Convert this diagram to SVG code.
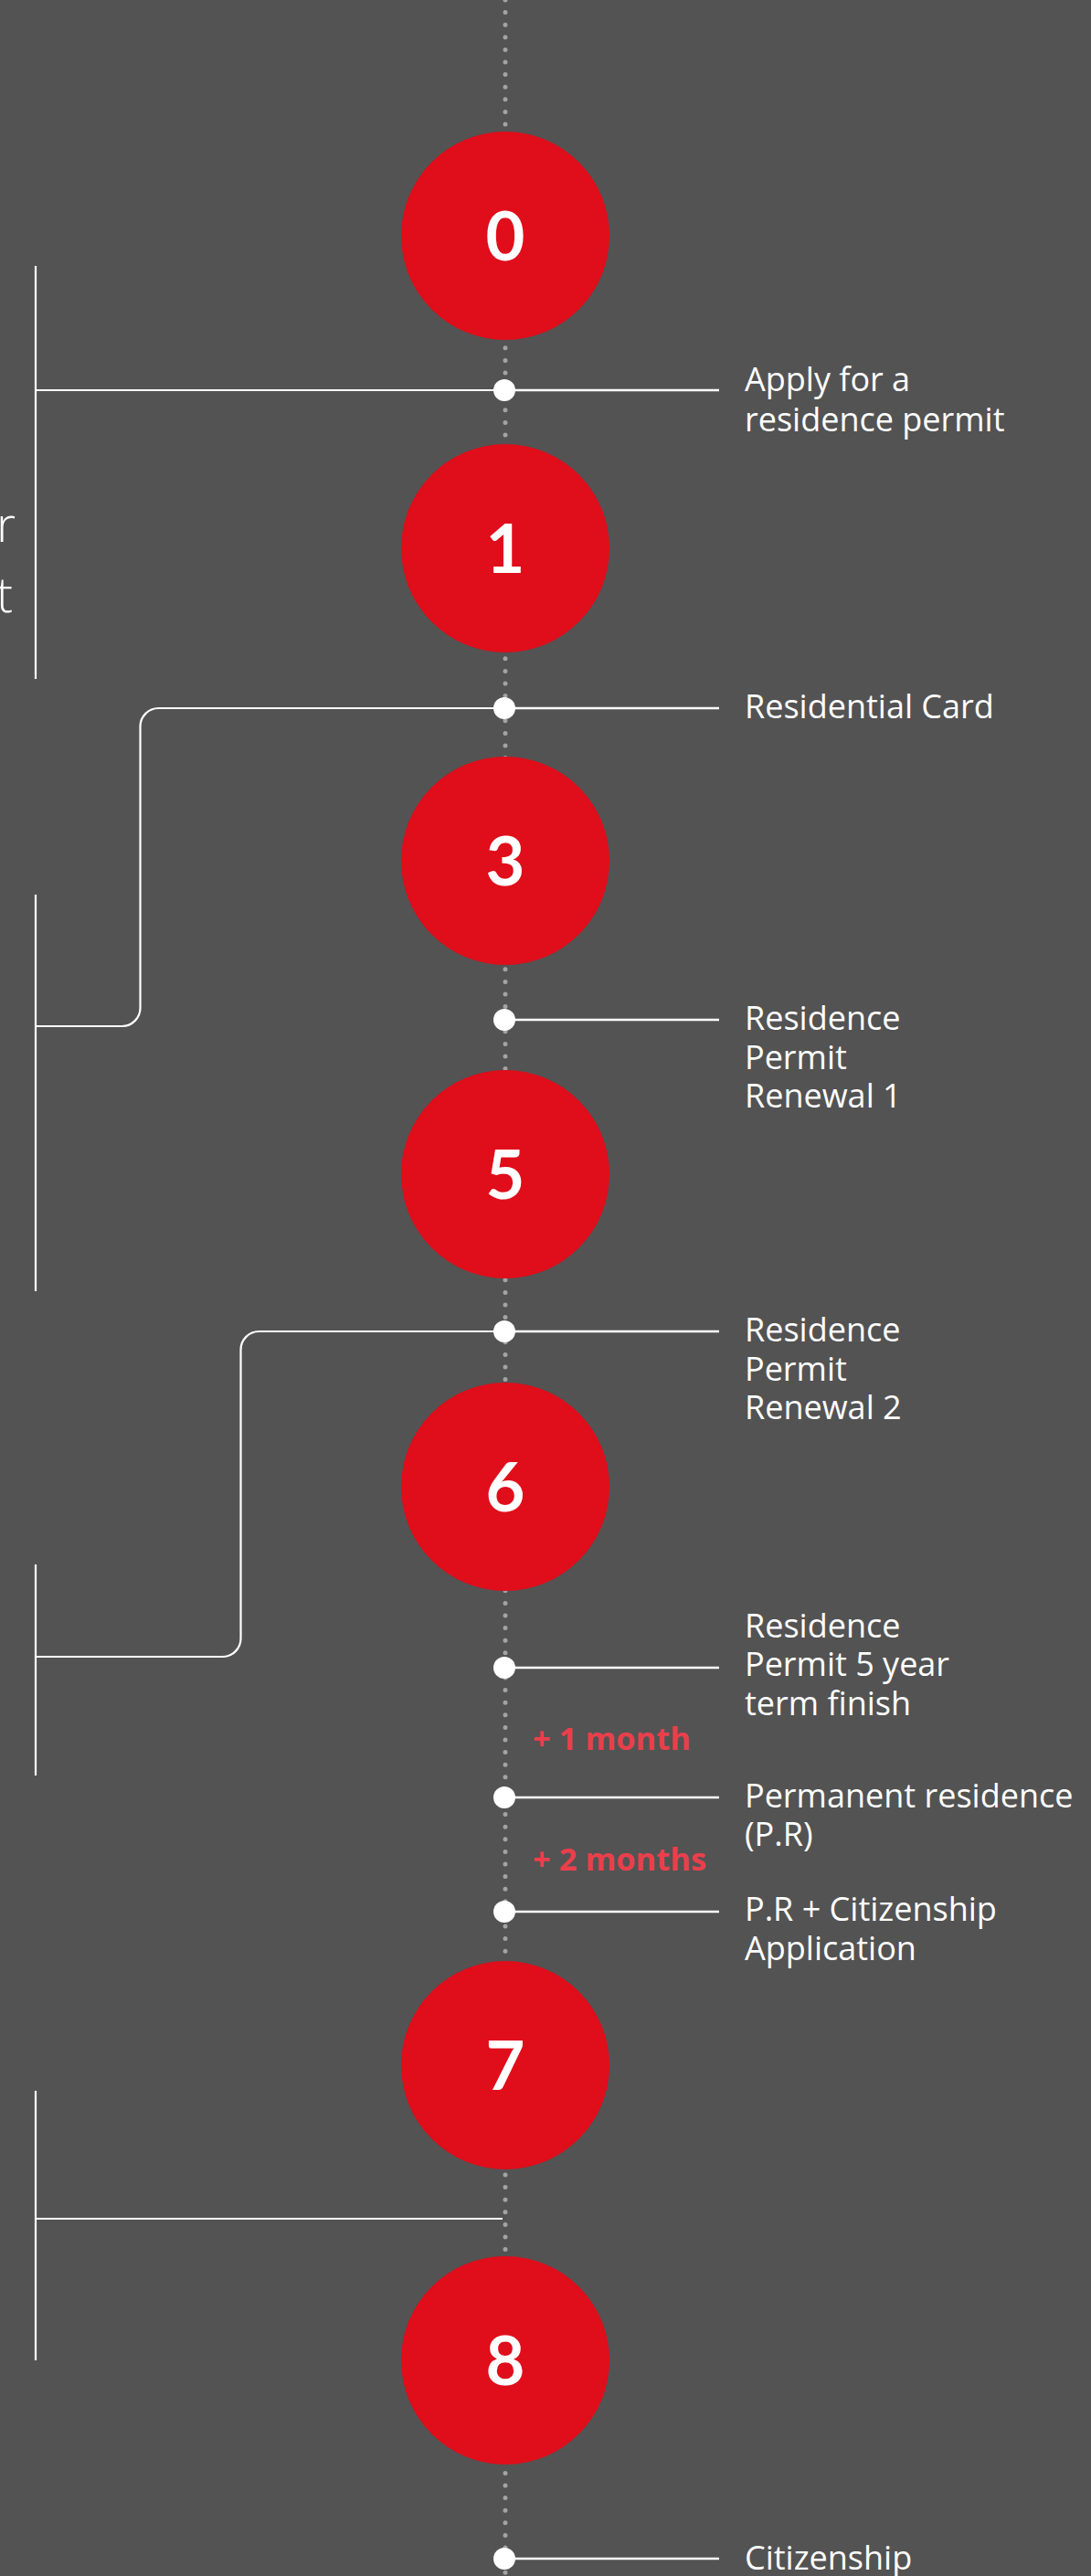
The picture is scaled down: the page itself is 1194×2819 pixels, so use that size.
<svg xmlns="http://www.w3.org/2000/svg" width="1194" height="2819" viewBox="0 0 1194 2819">
<style>
.bg{fill:#535353}
.spine{stroke:#a3a3a3;stroke-width:5;stroke-linecap:round;stroke-dasharray:0 13.6;fill:none}
.ln{stroke:#ffffff;stroke-width:2.5;fill:none}
.br{stroke:#ffffff;stroke-width:2.2;fill:none}
.step{fill:#e00d1a}
.num{fill:#ffffff;font-family:Lato,"Open Sans",sans-serif;font-weight:700;font-size:74px;text-anchor:middle}
.dot{fill:#ffffff}
.lbl{fill:#ffffff;font-family:"Open Sans",Lato,sans-serif;font-size:36px}
.gap{fill:#ea3f4b;font-family:"Open Sans",Lato,sans-serif;font-weight:700;font-size:34.5px}
.side{fill:#ffffff;font-family:"Open Sans",Lato,sans-serif;font-weight:300;font-size:54px;text-anchor:end}
</style>
<rect class="bg" x="0" y="0" width="1194" height="2819"/>
<g id="connectors">
<line class="spine" x1="553" y1="0" x2="553" y2="2819"/>
<line class="ln" x1="553" y1="427" x2="787" y2="427"/>
<line class="ln" x1="553" y1="775" x2="787" y2="775"/>
<line class="ln" x1="553" y1="1116" x2="787" y2="1116"/>
<line class="ln" x1="553" y1="1457" x2="787" y2="1457"/>
<line class="ln" x1="553" y1="1825" x2="787" y2="1825"/>
<line class="ln" x1="553" y1="1967" x2="787" y2="1967"/>
<line class="ln" x1="553" y1="2092" x2="787" y2="2092"/>
<line class="ln" x1="553" y1="2800" x2="787" y2="2800"/>
<line class="br" x1="39" y1="427" x2="553" y2="427"/>
<path class="br" d="M553 775 H173.5 A20 20 0 0 0 153.5 795 V1103 A20 20 0 0 1 133.5 1123 H39"/>
<path class="br" d="M553 1457 H283.5 A20 20 0 0 0 263.5 1477 V1793 A20 20 0 0 1 243.5 1813 H39"/>
<line class="br" x1="39" y1="2428" x2="550" y2="2428"/>
<line class="br" x1="39" y1="291" x2="39" y2="743"/>
<line class="br" x1="39" y1="979" x2="39" y2="1413"/>
<line class="br" x1="39" y1="1712" x2="39" y2="1943"/>
<line class="br" x1="39" y1="2288" x2="39" y2="2583"/>
</g>
<g id="side-text">
<text class="side" x="17" y="593">r</text>
<text class="side" x="14" y="670">t</text>
</g>
<g id="step-0"><circle class="step" cx="553" cy="258" r="114"/><text class="num" x="553" y="285">0</text></g>
<g id="step-1"><circle class="step" cx="553" cy="600" r="114"/><text class="num" x="553" y="627">1</text></g>
<g id="step-3"><circle class="step" cx="553" cy="942" r="114"/><text class="num" x="553" y="969">3</text></g>
<g id="step-5"><circle class="step" cx="553" cy="1285" r="114"/><text class="num" x="553" y="1312">5</text></g>
<g id="step-6"><circle class="step" cx="553" cy="1627" r="114"/><text class="num" x="553" y="1654">6</text></g>
<g id="step-7"><circle class="step" cx="553" cy="2260" r="114"/><text class="num" x="553" y="2287">7</text></g>
<g id="step-8"><circle class="step" cx="553" cy="2583" r="114"/><text class="num" x="553" y="2610">8</text></g>
<g id="ev-apply"><circle class="dot" cx="552" cy="427" r="12"/><text class="lbl"><tspan x="815" y="428">Apply for a</tspan><tspan x="815" y="472">residence permit</tspan></text></g>
<g id="ev-card"><circle class="dot" cx="552" cy="775" r="12"/><text class="lbl" x="815" y="786">Residential Card</text></g>
<g id="ev-renewal1"><circle class="dot" cx="552" cy="1116" r="12"/><text class="lbl"><tspan x="815" y="1127">Residence</tspan><tspan x="815" y="1170">Permit</tspan><tspan x="815" y="1212">Renewal 1</tspan></text></g>
<g id="ev-renewal2"><circle class="dot" cx="552" cy="1457" r="12"/><text class="lbl"><tspan x="815" y="1468">Residence</tspan><tspan x="815" y="1511">Permit</tspan><tspan x="815" y="1553">Renewal 2</tspan></text></g>
<g id="ev-term"><circle class="dot" cx="552" cy="1825" r="12"/><text class="lbl"><tspan x="815" y="1792">Residence</tspan><tspan x="815" y="1834">Permit 5 year</tspan><tspan x="815" y="1877">term finish</tspan></text></g>
<g id="gap-1"><text class="gap" x="583" y="1915">+ 1 month</text></g>
<g id="ev-pr"><circle class="dot" cx="552" cy="1967" r="12"/><text class="lbl"><tspan x="815" y="1978">Permanent residence</tspan><tspan x="815" y="2020">(P.R)</tspan></text></g>
<g id="gap-2"><text class="gap" x="583" y="2047">+ 2 months</text></g>
<g id="ev-app"><circle class="dot" cx="552" cy="2092" r="12"/><text class="lbl"><tspan x="815" y="2102">P.R + Citizenship</tspan><tspan x="815" y="2145">Application</tspan></text></g>
<g id="ev-citizen"><circle class="dot" cx="552" cy="2800" r="12"/><text class="lbl" x="815" y="2812">Citizenship</text></g>
</svg>
